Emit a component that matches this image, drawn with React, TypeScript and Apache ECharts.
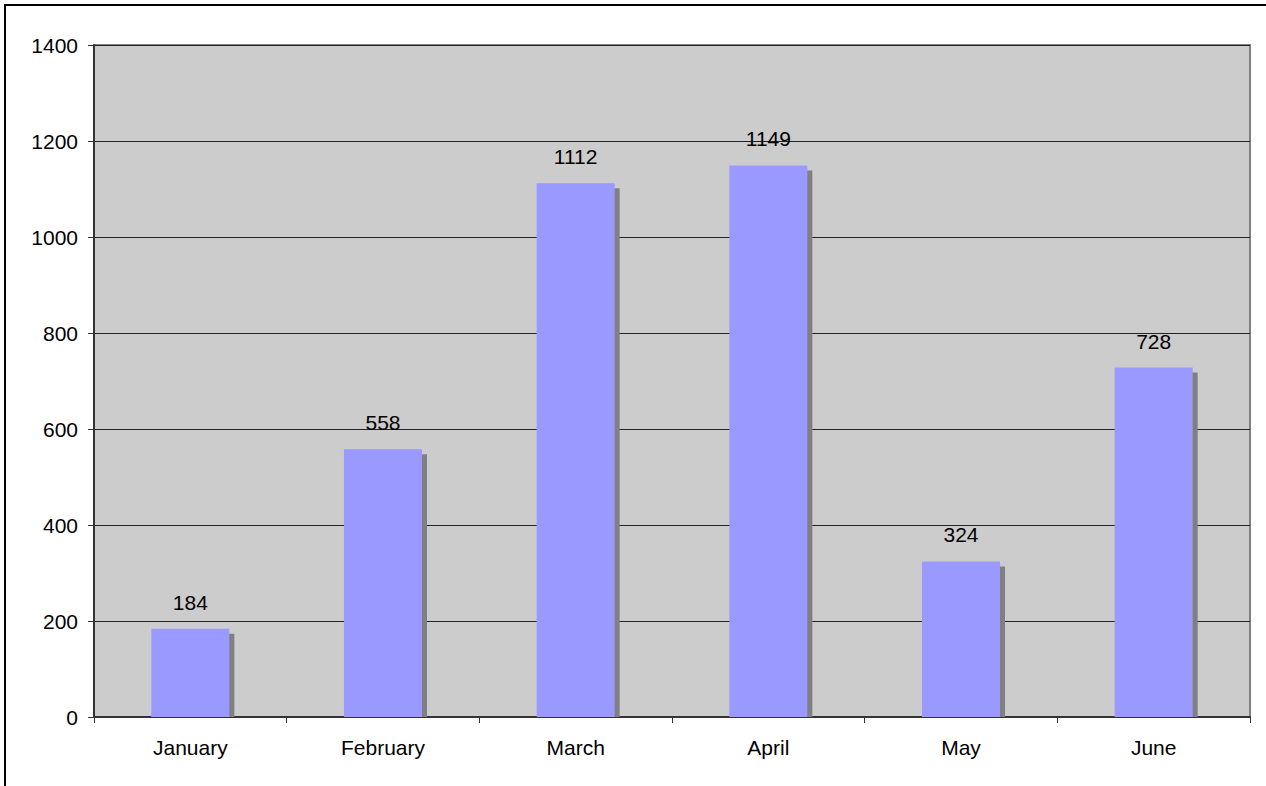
import React, { useEffect, useRef } from "react";
import * as echarts from "echarts";

const categories = ["January", "February", "March", "April", "May", "June"];
const values = [184, 558, 1112, 1149, 324, 728];
const yTicks = { min: 0, max: 1400, interval: 200 };

const FONT = "'Liberation Sans', Arial, sans-serif";

export default function App() {
  const ref = useRef<HTMLDivElement>(null);
  useEffect(() => {
    if (!ref.current) return;
    const chart = echarts.init(ref.current, null, { renderer: "svg" });
    chart.setOption({
      animation: false,
      backgroundColor: "#ffffff",
      textStyle: { fontFamily: FONT },
      graphic: [
        {
          type: "rect",
          shape: { x: 5, y: 5, width: 1280, height: 800 },
          style: { fill: "none", stroke: "#000", lineWidth: 2 },
          z: 100,
        },
      ],
      grid: {
        left: 94,
        top: 45,
        right: 16,
        bottom: 69,
        show: true,
        backgroundColor: "#CCCCCC",
        borderColor: "#808080",
        borderWidth: 2,
      },
      xAxis: {
        type: "category",
        data: categories,
        boundaryGap: true,
        axisLine: { show: true, lineStyle: { color: "#333", width: 2 } },
        axisTick: { show: true, length: 6, alignWithLabel: false, lineStyle: { color: "#333", width: 1 } },
        axisLabel: { color: "#000", fontSize: 21, fontFamily: FONT, margin: 20 },
        splitLine: { show: false },
      },
      yAxis: {
        type: "value",
        min: yTicks.min,
        max: yTicks.max,
        interval: yTicks.interval,
        axisLine: { show: true, lineStyle: { color: "#333", width: 2 } },
        axisTick: { show: true, length: 6, lineStyle: { color: "#333", width: 1 } },
        axisLabel: {
          color: "#000",
          fontSize: 21,
          fontFamily: FONT,
          margin: 16,
          formatter: (v: number) => String(v),
        },
        splitLine: { show: true, lineStyle: { color: "#222", width: 1 } },
      },
      series: [
        {
          type: "custom",
          data: values.map((v, i) => [i, v]),
          encode: { x: 0, y: 1 },
          clip: false,
          renderItem: (params: any, api: any) => {
            const idx = api.value(0);
            const val = api.value(1);
            const top = api.coord([idx, val]);
            const base = api.coord([idx, 0]);
            const catW = api.size([1, 0])[0];
            const w = catW * 0.405;
            const x = top[0] - w / 2;
            const y = top[1];
            const h = base[1] - top[1];
            return {
              type: "group",
              children: [
                {
                  type: "rect",
                  shape: { x: x + 5, y: y + 5, width: w, height: h - 5 },
                  style: { fill: "#808080" },
                },
                {
                  type: "rect",
                  shape: { x, y, width: w, height: h },
                  style: { fill: "#9999FF" },
                },
                {
                  type: "text",
                  x: top[0],
                  y: y - 16,
                  style: {
                    text: String(val),
                    fill: "#000",
                    font: `21px ${FONT}`,
                    align: "center",
                    verticalAlign: "bottom",
                  },
                },
              ],
            };
          },
        },
      ],
    });
    return () => chart.dispose();
  }, []);
  return (
    <div
      ref={ref}
      style={{ position: "fixed", left: 0, top: 0, width: 1266, height: 786 }}
    />
  );
}
